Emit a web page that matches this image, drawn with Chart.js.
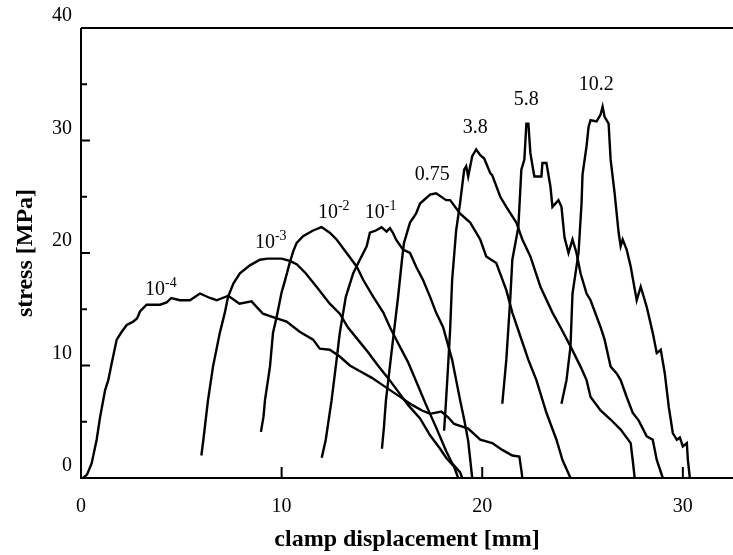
<!DOCTYPE html>
<html>
<head>
<meta charset="utf-8">
<script src="https://cdn.jsdelivr.net/npm/chart.js@4.4.1/dist/chart.umd.min.js"></script>
<style>
html,body{margin:0;padding:0;background:#fff;}
canvas{display:block;}
</style>
</head>
<body>
<canvas id="c" width="733" height="555"></canvas>
<script>
// ---- tick values ----
const xTickValues = [0, 10, 20, 30];
const yTickValues = [0, 10, 20, 30, 40];
const yMinorTicks = [5, 15, 25, 35];
const xInnerTicks = [10, 20, 30];

// ---- curve: 10^-4 ----
const xE4 = [0.1, 0.3, 0.53, 0.78, 0.95, 1.2, 1.36, 1.53, 1.78, 2.03, 2.28, 2.6, 2.8, 2.94, 3.27, 3.6, 3.94, 4.27, 4.5, 4.93, 5.43, 5.93, 6.43, 6.76, 7.34, 7.9, 8.5, 9.07, 9.57, 10.25, 10.9, 11.57, 11.9, 12.4, 12.9, 13.4, 14.0, 14.5, 15.0, 15.5, 16.0, 16.5, 17.0, 17.4, 17.96, 18.3, 18.6, 19.3, 19.9, 20.5, 21.0, 21.5, 21.85, 21.95, 22.0];
const yE4 = [0, 0.3, 1.3, 3.4, 5.4, 7.8, 8.7, 10.2, 12.3, 13.0, 13.6, 13.9, 14.2, 14.8, 15.4, 15.4, 15.4, 15.6, 16.0, 15.8, 15.8, 16.4, 16.0, 15.8, 16.2, 15.5, 15.7, 14.6, 14.3, 13.9, 13.0, 12.3, 11.5, 11.4, 10.8, 10.0, 9.4, 8.9, 8.3, 7.7, 7.1, 6.5, 6.0, 5.7, 5.9, 5.4, 4.8, 4.4, 3.4, 3.1, 2.5, 2.0, 1.9, 0.7, 0];

// ---- curve: 10^-3 ----
const xE3 = [6.0, 6.1, 6.27, 6.33, 6.58, 6.92, 7.17, 7.33, 7.6, 7.92, 8.42, 8.92, 9.3, 9.57, 10.0, 10.4, 10.75, 11.2, 11.74, 12.4, 12.9, 13.3, 13.8, 14.3, 14.8, 15.3, 15.8, 16.3, 16.9, 17.4, 17.9, 18.2, 18.6, 18.8];
const yE3 = [2.0, 3.4, 6.0, 6.9, 9.9, 12.9, 14.7, 16.1, 17.3, 18.2, 18.9, 19.4, 19.5, 19.5, 19.5, 19.3, 19.0, 18.2, 17.0, 15.5, 14.6, 13.4, 12.3, 11.2, 10.0, 8.9, 7.7, 6.5, 5.3, 3.8, 2.6, 1.8, 1.0, 0];

// ---- curve: 10^-2 ----
const xE2 = [8.97, 9.1, 9.17, 9.42, 9.57, 9.75, 10.0, 10.16, 10.4, 10.57, 10.75, 11.07, 11.57, 11.99, 12.4, 12.74, 13.24, 13.74, 14.07, 14.57, 15.07, 15.4, 15.8, 16.3, 16.8, 17.2, 17.7, 18.2, 18.5, 18.9, 19.0];
const yE2 = [4.1, 5.5, 6.9, 9.9, 12.9, 14.3, 16.5, 17.5, 19.1, 20.1, 20.9, 21.5, 22.0, 22.3, 21.8, 21.2, 20.0, 18.8, 17.6, 16.1, 14.7, 13.4, 12.0, 10.3, 8.2, 6.5, 4.5, 2.4, 1.3, 0.5, 0];

// ---- curve: 10^-1 ----
const xE1 = [12.0, 12.2, 12.49, 12.74, 12.9, 13.2, 13.57, 13.9, 14.24, 14.4, 14.7, 14.98, 15.23, 15.4, 15.55, 15.7, 16.05, 16.4, 16.7, 17.05, 17.4, 17.7, 18.05, 18.5, 18.9, 19.1, 19.3, 19.5];
const yE1 = [1.8, 3.4, 6.9, 10.5, 12.9, 16.1, 18.2, 19.4, 20.6, 21.8, 22.0, 22.3, 21.9, 22.2, 21.8, 21.2, 20.3, 20.0, 18.8, 17.6, 16.1, 14.7, 13.4, 10.5, 6.9, 5.2, 3.3, 0];

// ---- curve: 0.75 ----
const x075 = [15.0, 15.1, 15.2, 15.5, 15.8, 16.0, 16.1, 16.4, 16.7, 16.9, 17.4, 17.7, 18.2, 18.4, 18.9, 19.4, 19.9, 20.2, 20.7, 21.2, 21.5, 21.9, 22.3, 22.7, 23.2, 23.7, 24.0, 24.2, 24.4];
const y075 = [2.6, 4.5, 6.9, 11.5, 16.0, 19.4, 20.9, 22.7, 23.5, 24.4, 25.2, 25.3, 24.7, 24.7, 23.5, 22.7, 21.2, 19.7, 19.1, 16.7, 14.7, 12.6, 10.5, 8.7, 5.8, 3.4, 1.6, 0.8, 0];

// ---- curve: 3.8 ----
const x38 = [18.1, 18.2, 18.3, 18.4, 18.5, 18.7, 18.9, 19.1, 19.2, 19.3, 19.5, 19.7, 19.9, 20.1, 20.4, 20.5, 20.9, 21.2, 21.7, 22.0, 22.4, 22.9, 23.5, 23.9, 24.4, 24.9, 25.2, 25.4, 25.9, 26.4, 26.9, 27.4, 27.5, 27.6];
const y38 = [4.2, 7.0, 10.0, 13.2, 17.6, 22.0, 24.5, 27.4, 27.7, 26.8, 28.6, 29.2, 28.7, 28.4, 27.1, 26.9, 25.0, 24.1, 22.7, 21.2, 19.7, 17.0, 14.7, 13.4, 11.7, 9.9, 8.7, 7.2, 6.0, 5.2, 4.3, 3.1, 1.6, 0];

// ---- curve: 5.8 ----
const x58 = [21.0, 21.2, 21.4, 21.5, 21.8, 21.95, 22.1, 22.2, 22.3, 22.4, 22.5, 22.6, 22.95, 23.0, 23.2, 23.4, 23.5, 23.8, 23.95, 24.1, 24.3, 24.5, 24.7, 24.9, 25.2, 25.4, 25.9, 26.1, 26.4, 26.7, 26.9, 27.2, 27.5, 27.8, 28.2, 28.5, 28.7, 29.0];
const y58 = [6.6, 10.5, 16.0, 19.4, 22.3, 27.4, 28.3, 31.5, 31.5, 28.9, 27.8, 26.8, 26.8, 28.0, 28.0, 25.9, 24.1, 24.7, 24.1, 21.4, 20.0, 21.2, 20.0, 18.2, 16.4, 15.8, 13.4, 12.3, 9.9, 9.3, 8.7, 7.2, 5.8, 5.1, 3.7, 3.4, 1.6, 0];

// ---- curve: 10.2 ----
const x102 = [23.95, 24.2, 24.4, 24.5, 24.8, 24.95, 25.0, 25.2, 25.3, 25.4, 25.7, 25.9, 26.0, 26.1, 26.3, 26.4, 26.6, 26.8, 26.9, 27.0, 27.2, 27.4, 27.7, 27.9, 28.2, 28.5, 28.7, 28.9, 29.1, 29.3, 29.5, 29.7, 29.85, 30.0, 30.2, 30.25, 30.35];
const y102 = [6.6, 8.7, 11.7, 16.4, 20.0, 24.4, 27.0, 29.5, 31.2, 31.8, 31.7, 32.3, 33.0, 32.1, 31.5, 28.3, 25.3, 21.8, 20.6, 21.2, 20.3, 18.8, 15.8, 17.0, 15.2, 12.9, 11.1, 11.4, 9.3, 6.3, 4.0, 3.4, 3.6, 2.8, 3.1, 1.6, 0];

// ---- curve labels (left x, baseline y in data units) ----
const labelBase = ['10', '10', '10', '10', '0.75', '3.8', '5.8', '10.2'];
const labelSup  = ['-4', '-3', '-2', '-1', '', '', '', ''];
const labelX = [3.19, 8.67, 11.81, 14.15, 16.64, 19.03, 21.57, 24.81];
const labelY = [16.27, 20.44, 23.11, 23.11, 26.49, 30.67, 33.16, 34.49];

const series = [[xE4, yE4], [xE3, yE3], [xE2, yE2], [xE1, yE1], [x075, y075], [x38, y38], [x58, y58], [x102, y102]];

const SERIF = '"Liberation Serif", "DejaVu Serif", serif';

const framePlugin = {
  id: 'frame',
  afterDraw(chart) {
    const {ctx, chartArea: a, scales: {x, y}} = chart;
    ctx.save();
    ctx.strokeStyle = '#000';
    ctx.lineWidth = 2;
    ctx.beginPath();
    ctx.moveTo(a.left, a.top); ctx.lineTo(a.right, a.top);
    ctx.moveTo(a.left, a.top); ctx.lineTo(a.left, a.bottom); ctx.lineTo(a.right, a.bottom);
    [10, 20, 30].forEach(v => { const p = y.getPixelForValue(v); ctx.moveTo(a.left, p); ctx.lineTo(a.left + 9, p); });
    yMinorTicks.forEach(v => { const p = y.getPixelForValue(v); ctx.moveTo(a.left, p); ctx.lineTo(a.left + 6, p); });
    xInnerTicks.forEach(v => { const p = x.getPixelForValue(v); ctx.moveTo(p, a.bottom); ctx.lineTo(p, a.bottom - 11); });
    ctx.stroke();
    ctx.fillStyle = '#000';
    ctx.textBaseline = 'alphabetic';
    ctx.textAlign = 'left';
    for (let i = 0; i < labelBase.length; i++) {
      const px = x.getPixelForValue(labelX[i]);
      const py = y.getPixelForValue(labelY[i]);
      ctx.font = '20px ' + SERIF;
      ctx.fillText(labelBase[i], px, py);
      if (labelSup[i]) {
        const w = ctx.measureText(labelBase[i]).width;
        ctx.font = '14px ' + SERIF;
        ctx.fillText(labelSup[i], px + w, py - 8);
      }
    }
    ctx.restore();
  }
};

new Chart(document.getElementById('c'), {
  type: 'scatter',
  data: {
    datasets: series.map(([xs, ys]) => ({
      data: xs.map((v, i) => ({x: v, y: ys[i]})),
      showLine: true,
      borderColor: '#000',
      borderWidth: 2.4,
      pointRadius: 0,
      pointHoverRadius: 0,
      tension: 0,
      fill: false
    }))
  },
  options: {
    responsive: false,
    animation: false,
    devicePixelRatio: 1,
    layout: {padding: {top: 28, left: 0, right: 0, bottom: 0}},
    plugins: {legend: {display: false}, tooltip: {enabled: false}},
    scales: {
      x: {
        type: 'linear', min: 0, max: 32.5,
        afterFit(s) { s.height = 77; },
        afterBuildTicks(s) { s.ticks = xTickValues.map(v => ({value: v})); },
        grid: {display: false, drawTicks: false},
        border: {display: false},
        ticks: {color: '#000', padding: 17, maxRotation: 0, autoSkip: false, font: {family: SERIF, size: 20}},
        title: {display: true, text: 'clamp displacement [mm]', color: '#000', padding: {top: 0, bottom: 1}, font: {family: SERIF, size: 24, weight: 'bold'}}
      },
      y: {
        type: 'linear', min: 0, max: 40,
        afterFit(s) { s.width = 81; },
        afterBuildTicks(s) { s.ticks = yTickValues.map(v => ({value: v})); },
        grid: {display: false, drawTicks: false},
        border: {display: false},
        ticks: {color: '#000', padding: 9, labelOffset: -12, autoSkip: false, font: {family: SERIF, size: 20}},
        title: {display: true, text: 'stress [MPa]', color: '#000', padding: {top: 11, bottom: 0}, font: {family: SERIF, size: 24, weight: 'bold'}}
      }
    }
  },
  plugins: [framePlugin]
});
</script>
</body>
</html>
